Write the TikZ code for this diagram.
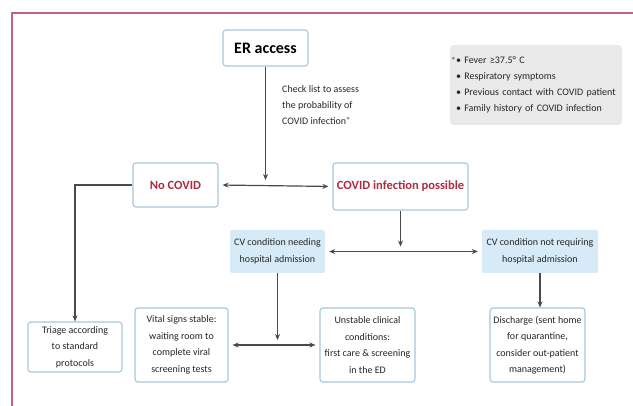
\documentclass[tikz,border=0pt]{standalone}
\usepackage{fontspec}
\setmainfont{Carlito}
\usepackage{tikz}
\tikzset{>=stealth}
\usetikzlibrary{arrows.meta, positioning}
\definecolor{framered}{HTML}{C0647A}
\definecolor{boxline}{HTML}{A3C8DA}
\definecolor{cvfill}{HTML}{D6EBF7}
\definecolor{notefill}{HTML}{E9E9E9}
\definecolor{covidred}{HTML}{B02A40}
\definecolor{linegray}{HTML}{4A4A4A}

\begin{document}
\begin{tikzpicture}[>=Stealth, x=1pt, y=-1pt,
  box/.style={draw=boxline, line width=1.1pt, rounded corners=3pt, fill=white,
    align=center, inner sep=2pt, text=black!85, font=\fontsize{10}{16.5}\selectfont},
  redbox/.style={box, text=covidred, font=\fontsize{12.5}{14}\selectfont\bfseries},
  cvbox/.style={fill=cvfill, rounded corners=2pt, align=center, inner sep=2pt,
    text=black!85, font=\fontsize{10}{17}\selectfont},
  link/.style={draw=linegray, line width=1.2pt},
  arr/.style={link, -{Stealth[length=6pt,width=5pt]}, shorten >=5pt},
  dblarr/.style={link, {Stealth[length=6pt,width=5pt]}-{Stealth[length=6pt,width=5pt]}, shorten >=4pt, shorten <=4pt}]
  \useasboundingbox (0,0) rectangle (633,406);

  % Frame
  \draw[framered, line width=2.2pt] (633,13) -- (12,13) -- (12,406);

  % Top
  \node[box, text=black, font=\fontsize{16}{18}\selectfont\bfseries,
    minimum width=85pt, minimum height=36pt] (er) at (265.5,48) {ER access};
  \node[anchor=north west, align=left, inner sep=0pt, text=black!85,
    font=\fontsize{10}{16}\selectfont] (check) at (282,85)
    {Check list to assess\\the probability of\\COVID infection$^{*}$};
  \node[fill=notefill, rounded corners=4pt, minimum width=172pt, minimum height=80pt,
    text width=160pt, align=left, text=black!85, font=\fontsize{10}{16}\selectfont] (note) at (536,85)
    {\llap{$^{*}$}• Fever ≥37.5° C\\• Respiratory symptoms\\• Previous contact with COVID patient\\• Family history of COVID infection};

  % Second row
  \node[redbox, minimum width=85pt, minimum height=44pt] (nocovid) at (175.5,185) {No COVID};
  \node[redbox, minimum width=135pt, minimum height=47pt] (covid) at (400.5,186.5) {COVID infection possible};

  % CV condition
  \node[cvbox, minimum width=95pt, minimum height=43pt] (cvneed) at (277.5,251.5)
    {CV condition needing\\hospital admission};
  \node[cvbox, minimum width=116pt, minimum height=43pt] (cvnot) at (540,251.5)
    {CV condition not requiring\\hospital admission};

  % Bottom row
  \node[box, minimum width=94pt, minimum height=50pt] (triage) at (75,347)
    {Triage according\\to standard\\protocols};
  \node[box, minimum width=93pt, minimum height=74pt] (vital) at (181.5,345)
    {Vital signs stable:\\waiting room to\\complete viral\\screening tests};
  \node[box, minimum width=95pt, minimum height=74pt] (unstable) at (367.5,345)
    {Unstable clinical\\conditions:\\first care \& screening\\in the ED};
  \node[box, minimum width=95pt, minimum height=74pt] (discharge) at (537.5,345)
    {Discharge (sent home\\for quarantine,\\consider out-patient\\management)};

  % Connectors
  \draw[dblarr] (nocovid.east) -- (covid.west);
  \draw[arr] (er.south) -- (er.south |- nocovid.east);
  \draw[arr, shorten >=0pt] (nocovid.west) -| (triage.north);
  \draw[dblarr] (cvneed.east) -- (cvnot.west);
  \draw[arr] (covid.south) -- (covid.south |- cvneed.east);
  \draw[dblarr] (vital.east) -- (unstable.west);
  \draw[arr] (cvneed.south) -- (cvneed.south |- vital.east);
  \draw[arr, shorten >=0pt] (cvnot.south) -- (cvnot.south |- discharge.north);
\end{tikzpicture}
\end{document}
